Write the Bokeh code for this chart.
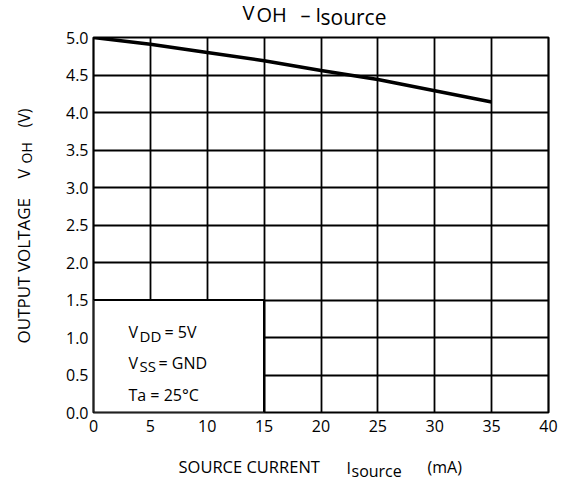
from bokeh.plotting import figure
from bokeh.layouts import column, row
from bokeh.models import Range1d, FixedTicker, Label, BoxAnnotation
from bokeh.embed import file_html
from bokeh.resources import INLINE
import math

# ---- data ----
source_current = [0, 5, 10, 15, 20, 25, 30, 35]          # mA
output_voltage = [5.0, 4.91, 4.80, 4.69, 4.56, 4.44, 4.29, 4.14]  # V

x_ticks = [0, 5, 10, 15, 20, 25, 30, 35, 40]
x_tick_labels = ["0", "5", "10", "15", "20", "25", "30", "35", "40"]
y_ticks = [0.0, 0.5, 1.0, 1.5, 2.0, 2.5, 3.0, 3.5, 4.0, 4.5, 5.0]
y_tick_labels = ["0.0", "0.5", "1.0", "1.5", "2.0", "2.5", "3.0", "3.5", "4.0", "4.5", "5.0"]

legend_box_x = [0, 15]
legend_box_y = [0, 1.5]

FONT = "Open Sans"


def lab(fig, text, x, y, size, angle=0.0):
    # x, y in screen px relative to the figure frame's bottom-left corner
    fig.add_layout(Label(x=x, y=y, x_units="screen", y_units="screen", text=text,
                         text_font=FONT, text_font_size=f"{size}px", text_color="black",
                         text_align="left", text_baseline="alphabetic", angle=angle))


def text_fig(w, h):
    f = figure(width=w, height=h, output_backend="svg", toolbar_location=None,
               title=None, x_axis_type=None, y_axis_type=None,
               min_border=0, min_border_left=0, min_border_right=0,
               min_border_top=0, min_border_bottom=0)
    f.outline_line_color = None
    f.background_fill_color = "white"
    f.border_fill_color = "white"
    f.xgrid.visible = False
    f.ygrid.visible = False
    return f


# ---- main chart ----
p = figure(width=521, height=418, output_backend="svg", toolbar_location=None,
           title=None, x_range=Range1d(0, 40), y_range=Range1d(0, 5),
           min_border_left=48, min_border_right=18, min_border_top=7, min_border_bottom=36)
p.background_fill_color = "white"
p.border_fill_color = "white"
p.outline_line_color = "black"
p.outline_line_width = 2.2

for ax, ticks, labels in ((p.xaxis[0], x_ticks, x_tick_labels), (p.yaxis[0], y_ticks, y_tick_labels)):
    ax.ticker = FixedTicker(ticks=ticks)
    ax.major_label_overrides = {t: l for t, l in zip(ticks, labels)}
    ax.axis_line_color = None
    ax.major_tick_in = 0
    ax.major_tick_out = 0
    ax.minor_tick_in = 0
    ax.minor_tick_out = 0
    ax.major_label_text_font = FONT
    ax.major_label_text_font_size = "16px"
    ax.major_label_text_color = "black"
p.xaxis.major_label_standoff = 7
p.yaxis.major_label_standoff = 5

p.xgrid.ticker = FixedTicker(ticks=x_ticks)
p.ygrid.ticker = FixedTicker(ticks=y_ticks)
for g in (p.xgrid[0], p.ygrid[0]):
    g.grid_line_color = "black"
    g.grid_line_width = 1.8
    g.grid_line_alpha = 1.0

p.line(source_current, output_voltage, line_width=3.5, line_color="black")

p.add_layout(BoxAnnotation(left=legend_box_x[0], right=legend_box_x[1],
                           bottom=legend_box_y[0], top=legend_box_y[1],
                           fill_color="white", fill_alpha=1.0,
                           line_color="black", line_width=2.2, line_alpha=1.0))

# legend texts
lab(p, "V", 35, 81, 16)
lab(p, "DD", 46, 77, 15)
lab(p, "= 5V", 71, 81, 16)
lab(p, "V", 35, 50, 16)
lab(p, "SS", 46, 47, 15)
lab(p, "= GND", 65, 50, 16)
lab(p, "Ta = 25°C", 35, 18, 16)

# ---- title  V_OH - I_source ----
t = text_fig(566, 30)
lab(t, "V", 242, 18, 20)
lab(t, "OH", 256, 16.5, 20)
lab(t, "–", 300, 16.5, 20)
lab(t, "I", 315, 16, 20)
lab(t, "source", 320, 13.7, 21)

# ---- y axis title (rotated) ----
yl = text_fig(45, 418)
r = math.pi / 2
lab(yl, "OUTPUT  VOLTAGE", 23, 69, 17, angle=r)
lab(yl, "V", 23, 234, 16, angle=r)
lab(yl, "OH", 26, 249, 14, angle=r)
lab(yl, "(V)", 23, 285, 16, angle=r)

# ---- x axis title ----
xl = text_fig(566, 33)
lab(xl, "SOURCE  CURRENT", 178, 15, 16.5)
lab(xl, "I", 346, 14, 16)
lab(xl, "source", 351, 11, 16)
lab(xl, "(mA)", 427, 15, 16)

layout = column(t, row(yl, p, spacing=0), xl, spacing=0)

open("out.html", "w").write(file_html(layout, INLINE))
